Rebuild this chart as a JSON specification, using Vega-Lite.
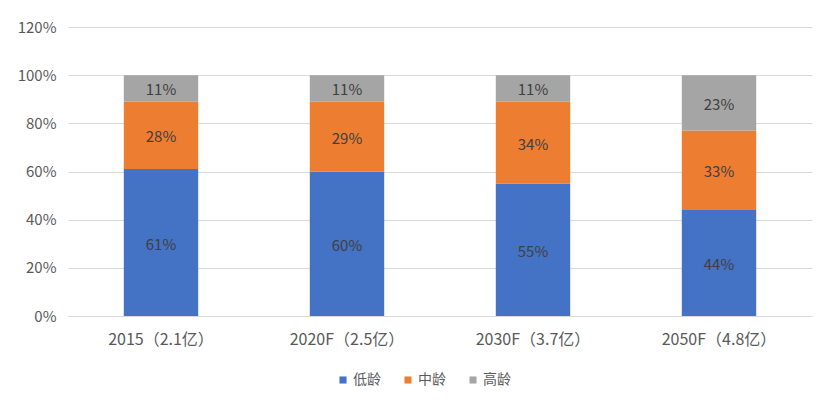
{
  "$schema": "https://vega.github.io/schema/vega-lite/v6.json",
  "width": 744,
  "height": 289,
  "autosize": {"type": "none"},
  "padding": {"left": 68, "top": 27, "right": 25, "bottom": 90},
  "background": "white",
  "config": {
    "font": "Noto Sans CJK SC",
    "view": {"stroke": null}
  },
  "data": {
    "values": [
      {"cat": "2015（2.1亿）", "group": "低龄", "k": 1, "v": 0.61},
      {"cat": "2015（2.1亿）", "group": "中龄", "k": 2, "v": 0.28},
      {"cat": "2015（2.1亿）", "group": "高龄", "k": 3, "v": 0.11},
      {"cat": "2020F（2.5亿）", "group": "低龄", "k": 1, "v": 0.60},
      {"cat": "2020F（2.5亿）", "group": "中龄", "k": 2, "v": 0.29},
      {"cat": "2020F（2.5亿）", "group": "高龄", "k": 3, "v": 0.11},
      {"cat": "2030F（3.7亿）", "group": "低龄", "k": 1, "v": 0.55},
      {"cat": "2030F（3.7亿）", "group": "中龄", "k": 2, "v": 0.34},
      {"cat": "2030F（3.7亿）", "group": "高龄", "k": 3, "v": 0.11},
      {"cat": "2050F（4.8亿）", "group": "低龄", "k": 1, "v": 0.44},
      {"cat": "2050F（4.8亿）", "group": "中龄", "k": 2, "v": 0.33},
      {"cat": "2050F（4.8亿）", "group": "高龄", "k": 3, "v": 0.23}
    ]
  },
  "transform": [
    {"stack": "v", "groupby": ["cat"], "sort": [{"field": "k", "order": "ascending"}], "as": ["v0", "v1"]},
    {"calculate": "(datum.v0 + datum.v1) / 2", "as": "vmid"}
  ],
  "encoding": {
    "x": {
      "field": "cat",
      "type": "nominal",
      "sort": null,
      "title": null,
      "scale": {"paddingInner": 0.6, "paddingOuter": 0.3},
      "axis": {
        "labelAngle": 0,
        "ticks": false,
        "labelPadding": 15,
        "labelFontSize": 16,
        "labelColor": "#595959",
        "domainColor": "#d9d9d9",
        "domainWidth": 1,
        "grid": false
      }
    }
  },
  "layer": [
    {
      "mark": {"type": "bar"},
      "encoding": {
        "y": {
          "field": "v0",
          "type": "quantitative",
          "title": null,
          "scale": {"domain": [0, 1.2], "nice": false},
          "axis": {
            "values": [0, 0.2, 0.4, 0.6, 0.8, 1.0, 1.2],
            "format": ".0%",
            "domain": false,
            "ticks": false,
            "labelPadding": 12,
            "labelFontSize": 15,
            "labelColor": "#595959",
            "gridColor": "#d9d9d9",
            "gridWidth": 1
          }
        },
        "y2": {"field": "v1"},
        "color": {
          "field": "group",
          "type": "nominal",
          "scale": {"domain": ["低龄", "中龄", "高龄"], "range": ["#4472C4", "#ED7D31", "#A5A5A5"]},
          "legend": {
            "title": null,
            "orient": "none",
            "legendX": 268,
            "legendY": 346,
            "direction": "horizontal",
            "symbolType": "square",
            "symbolSize": 50,
            "symbolStrokeWidth": 0,
            "labelFontSize": 14,
            "labelColor": "#595959",
            "labelOffset": 3,
            "columnPadding": 20
          }
        }
      }
    },
    {
      "mark": {"type": "text", "fontSize": 15, "color": "#404040", "dy": 2},
      "encoding": {
        "y": {"field": "vmid", "type": "quantitative"},
        "text": {"field": "v", "type": "quantitative", "format": ".0%"}
      }
    }
  ]
}
